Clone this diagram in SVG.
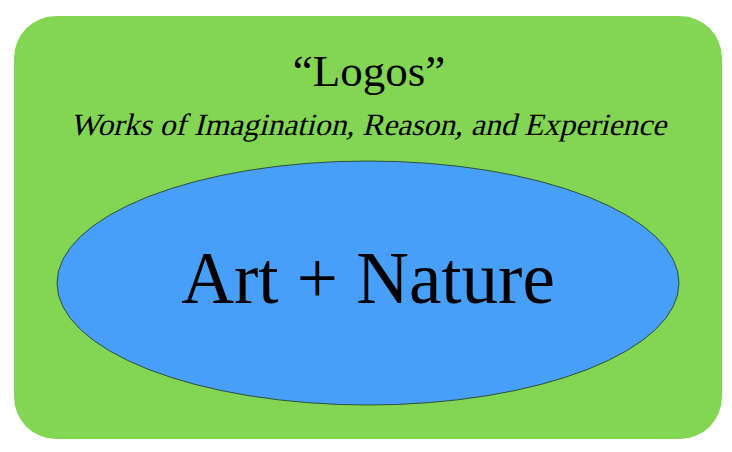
<svg xmlns="http://www.w3.org/2000/svg" width="732" height="452" viewBox="0 0 732 452">
<style>
.t{font-family:"Liberation Serif","DejaVu Serif",serif;fill:#000;text-anchor:middle}
</style>
<rect width="732" height="452" fill="#fff"/>
<g id="logos">
<rect x="14" y="16" width="708" height="423" rx="42" ry="42" fill="#83D653"/>
<text class="t" x="369" y="86" font-size="45">“Logos”</text>
<text class="t" transform="translate(368,135) skewX(-14)" x="0" y="0" font-size="31" textLength="596" lengthAdjust="spacingAndGlyphs">Works of Imagination, Reason, and Experience</text>
</g>
<g id="art-nature">
<ellipse cx="368" cy="283" rx="311" ry="122" fill="#479FF8" stroke="#2f4f3a" stroke-width="1"/>
<text class="t" x="368" y="303" font-size="73">Art + Nature</text>
</g>
</svg>
